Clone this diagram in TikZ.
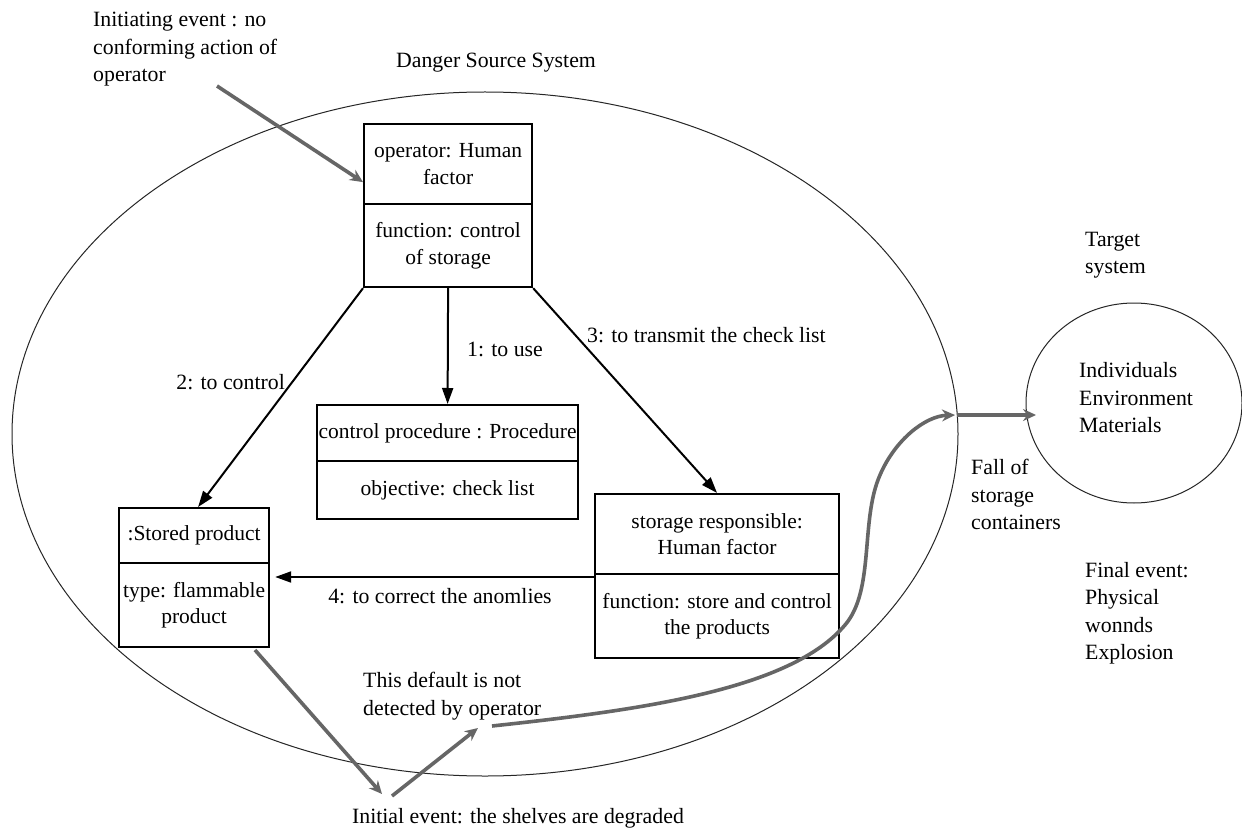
\documentclass[tikz,border=0pt]{standalone}
\usepackage{fontspec}
\setmainfont{Liberation Serif}
\usetikzlibrary{arrows.meta,shapes.geometric,calc}
\tikzset{
  txt/.style={font=\fontsize{21.8}{27.5}\selectfont, inner sep=0pt, align=left},
  ctxt/.style={font=\fontsize{21.8}{27.5}\selectfont, inner sep=0pt, align=center},
  cell/.style={draw=black, line width=2.2pt, rectangle, inner sep=0pt, align=center,
               font=\fontsize{21.5}{26.5}\selectfont, anchor=north west},
  sys/.style={draw=black!85, line width=1pt, ellipse, inner sep=0pt},
  arr/.style={draw=black, line width=2pt, -{Triangle[length=16pt,width=11pt]}},
  garr/.style={draw=black!60, line width=3.6pt, -{Stealth[length=13pt,width=12pt]}},
}
\begin{document}
\begin{tikzpicture}[x=1pt,y=-1pt]
\useasboundingbox (0,0) rectangle (1242,829);
\fill[white] (0,0) rectangle (1242,829);

% system ellipses
\node[sys, minimum width=946pt, minimum height=684pt] (dss) at (485,434) {};
\node[sys, minimum width=216pt, minimum height=200pt] (tgt) at (1134,403) {};

% operator box
\node[cell, minimum width=168pt, minimum height=80pt] (opA) at (363,123) {operator: Human\\factor};
\node[cell, minimum width=168pt, minimum height=83pt] (opB) at (363,203) {function: control\\of storage};
% control procedure box
\node[cell, minimum width=261pt, minimum height=56pt] (cpA) at (316,404) {control procedure : Procedure};
\node[cell, minimum width=261pt, minimum height=58pt] (cpB) at (316,460) {objective: check list};
% stored product box
\node[cell, minimum width=150pt, minimum height=55pt] (spA) at (118,507) {:Stored product};
\node[cell, minimum width=150pt, minimum height=84pt] (spB) at (118,562) {type: flammable\\product};
% storage responsible box
\node[cell, minimum width=244pt, minimum height=80pt] (srA) at (594,493) {storage responsible:\\Human factor};
\node[cell, minimum width=244pt, minimum height=84pt] (srB) at (594,573) {function: store and control\\the products};

% black connectors
\draw[arr] (opB.south) -- (cpA.north);
\draw[arr] (opB.south west) -- ($(spA.north)+(4,0)$);
\draw[arr] (opB.south east) -- (srA.north);
\coordinate (c4s) at ($(srB.north west)+(0,4)$);
\coordinate (c4e) at ($(spB.east |- c4s)+(5,0)$);
\draw[arr] (c4s) -- (c4e);

% connector labels
\node[txt, anchor=east] (l2) at (285,382) {2: to control};
\node[txt, anchor=west] (l1) at (467,349) {1: to use};
\node[txt, anchor=west] (l3) at (587,335) {3: to transmit the check list};
\node[ctxt] (l4) at (440,596) {4: to correct the anomlies};

% free texts
\node[txt, anchor=north west] (init) at (93,12) {Initiating event : no\\conforming action of\\operator};
\node[ctxt] (dsst) at (496,63) {Danger Source System};
\node[txt, anchor=north west] (tgtt) at (1085,232) {Target\\system};
\node[txt, anchor=west] (tgtin) at (1079,398) {Individuals\\Environment\\Materials};
\node[txt, anchor=north west] (fall) at (971,459) {Fall of\\storage\\containers};
\node[txt, anchor=north west] (final) at (1085,562) {Final event:\\Physical\\wonnds\\Explosion};
\node[txt, anchor=north west] (dflt) at (363,672) {This default is not\\detected by operator};
\node[ctxt] (initev) at (518,818) {Initial event: the shelves are degraded};

% gray event arrows
\coordinate (g0) at (217,86);
\draw[garr] (g0) -- ($(opA.west)+(0,18)$);
\coordinate (g1s) at (255,650);
\coordinate (g1e) at (382,794);
\draw[garr] (g1s) -- (g1e);
\coordinate (g2s) at (392,796);
\coordinate (g2e) at (478,728);
\draw[garr] (g2s) -- (g2e);
\coordinate (g3s) at (492,726);
\coordinate (g3e) at (955,415);
\draw[garr] (g3s) .. controls (640,710) and (790,690) .. (845,625)
                 .. controls (875,590) and (860,520) .. (880,475)
                 .. controls (895,440) and (925,416) .. (g3e);
\coordinate (g4s) at (957,415);
\coordinate (g4e) at (1036,415);
\draw[garr] (g4s) -- (g4e);
\end{tikzpicture}
\end{document}
